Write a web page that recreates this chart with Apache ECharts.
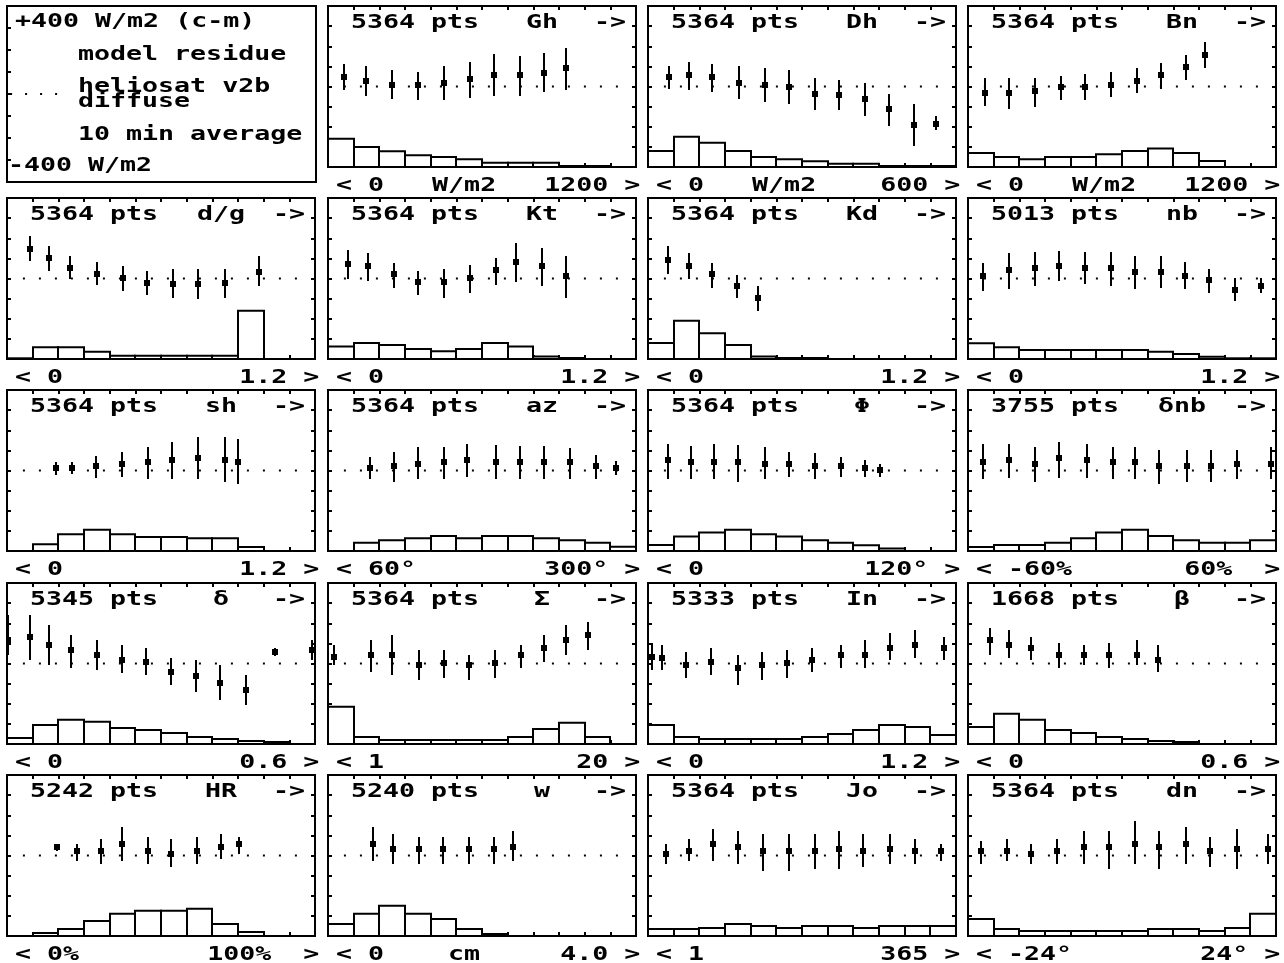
<!DOCTYPE html>
<html>
<head>
<meta charset="utf-8">
<script src="https://cdn.jsdelivr.net/npm/echarts@6/dist/echarts.min.js"></script>
<style>
  html, body { margin: 0; padding: 0; background: #fff; }
  #chart { width: 1284px; height: 963px; }
</style>
</head>
<body>
<div id="chart"></div>
<script>
// Residue (computed - measured, W/m2) of the Heliosat v2b diffuse model, 10 min averages,
// binned against 19 explanatory variables. Panels in reading order after the key panel.
const panelNames = ['Gh', 'Dh', 'Bn', 'd/g', 'Kt', 'Kd', 'nb', 'sh', 'az', 'Φ', 'δnb',
  'δ', 'Σ', 'In', 'β', 'HR', 'w', 'Jo', 'dn'];
const pointCounts = [5364, 5364, 5364, 5364, 5364, 5364, 5013, 5364, 5364, 5364, 3755,
  5345, 5364, 5333, 1668, 5242, 5240, 5364, 5364];
const lowLabels = ['0', '0', '0', '0', '0', '0', '0', '0', '60°', '0', '-60%',
  '0', '1', '0', '0', '0%', '0', '1', '-24°'];
const unitLabels = ['W/m2', 'W/m2', 'W/m2', '', '', '', '', '', '', '', '',
  '', '', '', '', '', 'cm', '', ''];
const highLabels = ['1200', '600', '1200', '1.2', '1.2', '1.2', '1.2', '1.2', '300°', '120°', '60%',
  '0.6', '20', '1.2', '0.6', '100%', '4.0', '365', '24°'];

// residue classes: position along the 12-bin variable axis
const binX = [
  [0.62, 1.48, 2.48, 3.50, 4.51, 5.54, 6.46, 7.47, 8.42, 9.29],
  [0.82, 1.60, 2.50, 3.54, 4.54, 5.49, 6.49, 7.44, 8.44, 9.38, 10.38, 11.23],
  [0.66, 1.61, 2.62, 3.62, 4.55, 5.58, 6.59, 7.52, 8.48, 9.23],
  [0.91, 1.62, 2.47, 3.50, 4.51, 5.45, 6.46, 7.46, 8.48, 9.80],
  [0.78, 1.56, 2.57, 3.50, 4.51, 5.55, 6.55, 7.33, 8.34, 9.27],
  [0.79, 1.60, 2.50, 3.45, 4.28],
  [0.58, 1.60, 2.62, 3.55, 4.56, 5.57, 6.49, 7.52, 8.47, 9.38, 10.42, 11.43],
  [1.92, 2.54, 3.48, 4.49, 5.50, 6.43, 7.46, 8.48, 9.01],
  [1.63, 2.57, 3.50, 4.51, 5.42, 6.55, 7.47, 8.43, 9.42, 10.43, 11.23],
  [0.79, 1.66, 2.59, 3.51, 4.54, 5.49, 6.49, 7.50, 8.44, 9.05],
  [0.58, 1.61, 2.62, 3.55, 4.64, 5.65, 6.50, 7.45, 8.54, 9.47, 10.48, 11.80],
  [0.04, 0.90, 1.63, 2.49, 3.50, 4.47, 5.40, 6.40, 7.38, 8.31, 9.32, 10.45, 11.90],
  [0.23, 1.67, 2.49, 3.53, 4.50, 5.51, 6.52, 7.50, 8.43, 9.28, 10.14],
  [0.15, 0.55, 1.48, 2.45, 3.50, 4.43, 5.40, 6.40, 7.50, 8.47, 9.44, 10.40, 11.53],
  [0.85, 1.60, 2.45, 3.53, 4.50, 5.50, 6.60, 7.42],
  [1.94, 2.72, 3.65, 4.47, 5.48, 6.40, 7.42, 8.35, 9.05],
  [1.75, 2.52, 3.53, 4.47, 5.48, 6.45, 7.22],
  [0.70, 1.60, 2.52, 3.50, 4.47, 5.51, 6.52, 7.46, 8.39, 9.44, 10.40, 11.42],
  [0.50, 1.51, 2.45, 3.46, 4.50, 5.51, 6.52, 7.46, 8.50, 9.44, 10.49, 11.69]
];
// mean residue per class (W/m2)
const meanResidue = [
  [48, 28, 7, 7, 18, 37, 56, 56, 68, 90],
  [48, 56, 48, 18, 7, -2, -35, -43, -63, -113, -193, -184],
  [-32, -32, -22, -2, -2, 7, 28, 56, 98, 156],
  [149, 100, 50, 21, 1, -21, -29, -29, -21, 32],
  [70, 62, 21, -17, -17, 1, 42, 82, 62, 12],
  [92, 62, 21, -37, -98],
  [12, 42, 50, 62, 50, 50, 32, 32, 12, -7, -59, -37],
  [12, 12, 23, 32, 40, 51, 61, 51, 43],
  [12, 23, 32, 40, 51, 40, 40, 40, 40, 23, 12],
  [51, 43, 43, 43, 32, 32, 23, 23, 12, 2],
  [40, 51, 32, 61, 51, 43, 43, 23, 23, 23, 32, 32],
  [117, 132, 92, 67, 42, 17, 7, -42, -62, -97, -132, 57, 67],
  [32, 42, 42, -7, 2, -7, 2, 42, 77, 117, 142],
  [32, 27, -7, 7, -22, -7, 2, 17, 42, 42, 77, 92, 77],
  [117, 92, 77, 42, 42, 42, 42, 17],
  [42, 22, 22, 57, 22, 7, 22, 42, 57],
  [57, 32, 32, 32, 32, 32, 42],
  [7, 22, 57, 42, 22, 22, 22, 32, 22, 32, 22, 22],
  [22, 22, 7, 22, 42, 42, 57, 42, 57, 22, 32, 32]
];
// lower end of the spread bar (W/m2)
const lowResidue = [
  [-18, -48, -60, -68, -68, -56, -48, -48, -27, -18],
  [-10, -15, -27, -60, -76, -88, -118, -118, -148, -198, -297, -217],
  [-98, -110, -101, -68, -68, -51, -32, -10, 32, 90],
  [87, 37, -4, -34, -62, -83, -95, -103, -95, -37],
  [-4, -12, -45, -83, -95, -73, -34, -17, -37, -95],
  [21, -4, -45, -95, -161],
  [-62, -50, -37, -12, -26, -37, -50, -45, -50, -73, -111, -73],
  [-22, -18, -35, -32, -43, -43, -43, -55, -65],
  [-43, -55, -43, -43, -32, -43, -43, -43, -40, -43, -22],
  [-43, -40, -40, -55, -43, -32, -43, -32, -32, -32],
  [-43, -35, -55, -35, -35, -43, -43, -65, -55, -55, -43, -43],
  [42, 17, -7, -22, -32, -47, -57, -107, -142, -181, -206, 37, 17],
  [-7, -42, -57, -82, -72, -82, -72, -22, 7, 42, 67],
  [-32, -32, -72, -57, -107, -82, -72, -42, -22, -22, 17, 27, 17],
  [42, 27, 17, -22, -7, -22, -7, -42],
  [22, -27, -42, -27, -42, -57, -42, -17, 7],
  [-27, -42, -42, -42, -42, -42, -27],
  [-42, -27, -27, -42, -77, -77, -67, -67, -57, -42, -42, -27],
  [-42, -27, -42, -42, -42, -67, -42, -67, -42, -57, -67, -42]
];
// upper end of the spread bar (W/m2)
const highResidue = [
  [111, 101, 81, 73, 101, 123, 161, 151, 164, 193],
  [101, 123, 111, 101, 90, 81, 40, 32, 15, -38, -88, -148],
  [40, 40, 40, 51, 61, 73, 90, 115, 159, 222],
  [210, 161, 111, 82, 62, 37, 45, 45, 45, 111],
  [144, 125, 75, 37, 45, 65, 103, 174, 153, 111],
  [161, 125, 75, 16, -37],
  [75, 125, 133, 136, 133, 133, 111, 111, 83, 45, 4, 4],
  [40, 40, 73, 93, 115, 144, 164, 164, 156],
  [65, 93, 115, 115, 134, 126, 123, 123, 111, 76, 45],
  [134, 123, 134, 126, 115, 93, 85, 65, 51, 32],
  [134, 134, 115, 144, 134, 115, 115, 103, 103, 103, 103, 115],
  [241, 241, 191, 142, 117, 92, 77, 27, 17, -7, -57, 77, 117],
  [92, 117, 142, 67, 67, 42, 67, 92, 142, 191, 206],
  [102, 92, 57, 77, 42, 57, 67, 77, 92, 117, 152, 166, 132],
  [176, 166, 132, 102, 92, 102, 117, 92],
  [57, 57, 82, 142, 92, 82, 92, 107, 92],
  [142, 107, 92, 92, 92, 92, 122],
  [57, 82, 132, 122, 107, 107, 107, 122, 107, 107, 82, 57],
  [72, 82, 57, 82, 122, 122, 171, 122, 142, 92, 132, 107]
];
// share of points falling in each of the 12 bins (percent)
const histShare = [
  [28, 20, 15.6, 11.6, 10, 7.6, 4.3, 4.3, 4.3, 1, 1, 0],
  [16, 30, 24, 16, 10, 7.6, 5.6, 3.3, 3.3, 1, 1, 1],
  [14, 10, 7.6, 10, 10, 12.6, 16, 18.3, 14, 6, 0, 0],
  [0.7, 11.6, 11.6, 7.3, 3.3, 3.3, 3.3, 3.3, 3.3, 48, 0, 0],
  [12.3, 16, 14, 10, 7.6, 10, 16, 12.3, 2.6, 1, 0, 0],
  [16, 38, 25.5, 14, 2.6, 1, 1, 0, 0, 0, 0, 0],
  [15.6, 11.6, 9, 9, 9, 9, 9, 7.3, 5, 2.3, 0.7, 0.7],
  [0, 6.6, 16.6, 21, 16.6, 14, 14, 12.6, 12.6, 4, 0, 0],
  [0, 8.3, 10.6, 12.6, 15, 12.6, 15, 15, 12.6, 10.6, 8.3, 4.3],
  [6, 14.3, 18.3, 21, 16.6, 14.3, 10.6, 8.3, 5.6, 2.6, 0, 0],
  [4, 6, 6, 8.3, 12.6, 18.3, 21, 15, 10.6, 8.3, 8.3, 10.6],
  [6, 19, 24, 22, 16, 14, 11, 7, 5, 3, 2, 0],
  [37, 7, 4, 4, 4, 4, 4, 7, 15, 21, 7, 0],
  [19, 7, 5, 5, 5, 5, 7, 10, 14, 19, 17, 9],
  [17, 30, 24, 14, 11, 7, 5, 3, 2, 0, 0, 0],
  [0, 3, 7, 15, 22, 25, 25, 27, 12, 4, 0, 0],
  [12, 22, 30, 22, 17, 7, 2, 0, 0, 0, 0, 0],
  [7, 7, 8, 12, 10, 8, 10, 10, 8, 10, 10, 10],
  [17, 7, 5, 5, 5, 5, 5, 7, 7, 5, 8, 22]
];
// key panel text
const keyTop = '+400 W/m2 (c-m)';
const keyBottom = '-400 W/m2';
const keyLines = ['model residue', 'heliosat v2b', 'diffuse', '10 min average'];

// ---- layout ----
const COL_LEFT = [7, 328, 648, 968];
const ROW_TOP = [6, 198, 390, 583, 775];
const PW = 308, PH = 161;
const FONT_FAMILY = '"DejaVu Sans Mono", "Liberation Mono", monospace';
const SX = 1.33; // widen the monospace glyphs to a 16px cell

const grids = [], xAxes = [], yAxes = [], series = [], texts = [];

function addText(x, y, s, align) {
  texts.push({
    type: 'text', x: x, y: y, scaleX: SX, silent: true, z: 50,
    style: {
      text: s, fill: '#000',
      font: 'bold 20px ' + FONT_FAMILY,
      fontFamily: FONT_FAMILY, fontWeight: 'bold', fontSize: 20,
      align: align || 'left', textAlign: align || 'left',
      verticalAlign: 'middle', textVerticalAlign: 'middle'
    }
  });
}

const tick = { show: true, inside: true, length: 4, lineStyle: { color: '#000', width: 2 } };
function xAxisDef(gi, pos, show) {
  return {
    gridIndex: gi, type: 'value', min: 0, max: 12, interval: 1, position: pos, show: show,
    axisLine: { show: false, onZero: false }, axisTick: tick,
    axisLabel: { show: false }, splitLine: { show: false }
  };
}
function yAxisDef(gi, pos, min, max, interval, show) {
  return {
    gridIndex: gi, type: 'value', min: min, max: max, interval: interval, position: pos, show: show,
    axisLine: { show: false, onZero: false }, axisTick: tick,
    axisLabel: { show: false }, splitLine: { show: false }
  };
}
function dottedZero(gi, x0, x1, gap) {
  return {
    type: 'line', xAxisIndex: 2 * gi, yAxisIndex: 2 * gi, data: [[x0, 0], [x1, 0]],
    symbol: 'none', silent: true, animation: false, z: 3,
    lineStyle: { color: '#000', width: 2, type: [2, gap] }
  };
}

// key panel
grids.push({ left: COL_LEFT[0], top: ROW_TOP[0], width: 309, height: 176,
  show: true, borderColor: '#000', borderWidth: 2, containLabel: false });
xAxes.push(xAxisDef(0, 'bottom', false), xAxisDef(0, 'top', false));
yAxes.push(yAxisDef(0, 'left', -400, 400, 100, true), yAxisDef(0, 'right', 0, 160, 20, false));
series.push(dottedZero(0, 0.12, 1.95, 13));
addText(15, 21.5, keyTop);
addText(78, 54.5, keyLines[0]);
addText(78, 87, keyLines[1]);
addText(78, 101.5, keyLines[2]);
addText(78, 134.5, keyLines[3]);
addText(8, 166, keyBottom);

function centerUnit(u) {
  const pad = 4 - u.length;
  return ' '.repeat(Math.floor(pad / 2)) + u + ' '.repeat(Math.ceil(pad / 2));
}
// range line under a panel, laid out on a 19-cell monospace row
function rangeLine(lo, unit, hi) {
  const right = (/%$/.test(hi) ? hi + ' ' : hi).padStart(5);
  return '< ' + lo.padEnd(4) + centerUnit(unit) + '  ' + right + ' >';
}

for (let p = 0; p < panelNames.length; p++) {
  const slot = p + 1;
  const gi = slot;
  const L = COL_LEFT[slot % 4], T = ROW_TOP[Math.floor(slot / 4)];
  grids.push({ left: L, top: T, width: PW, height: PH,
    show: true, borderColor: '#000', borderWidth: 2, containLabel: false });
  xAxes.push(xAxisDef(gi, 'bottom', true), xAxisDef(gi, 'top', true));
  yAxes.push(yAxisDef(gi, 'left', -400, 400, 100, true), yAxisDef(gi, 'right', 0, 160, 20, true));

  // histogram of the explanatory variable
  series.push({
    type: 'custom', xAxisIndex: 2 * gi, yAxisIndex: 2 * gi + 1, animation: false, silent: true, z: 2,
    encode: { x: 0, y: 1 },
    data: histShare[p].map((v, i) => [i, v]),
    renderItem: function (params, api) {
      const v = api.value(1);
      if (!(v > 0)) return null;
      const i = api.value(0);
      const a = api.coord([i, v]);
      const b = api.coord([i + 1, 0]);
      return {
        type: 'rect',
        shape: { x: Math.round(a[0]), y: a[1], width: Math.round(b[0]) - Math.round(a[0]), height: b[1] - a[1] },
        style: { fill: '#fff', stroke: '#000', lineWidth: 2 }
      };
    }
  });

  series.push(dottedZero(gi, 0.62, 11.3, 14));

  // mean residue with its spread
  series.push({
    type: 'custom', xAxisIndex: 2 * gi, yAxisIndex: 2 * gi, animation: false, silent: true, z: 4,
    clip: true,
    encode: { x: 0, y: [1, 2, 3] },
    data: binX[p].map((x, k) => [x, meanResidue[p][k], lowResidue[p][k], highResidue[p][k]]),
    renderItem: function (params, api) {
      const x = api.value(0);
      const c = api.coord([x, api.value(1)]);
      const lo = api.coord([x, api.value(2)]);
      const hi = api.coord([x, api.value(3)]);
      const px = Math.round(c[0]);
      const py = Math.round(c[1]);
      return {
        type: 'group',
        children: [
          { type: 'line', shape: { x1: px, y1: Math.round(hi[1]), x2: px, y2: Math.round(lo[1]) },
            style: { stroke: '#000', lineWidth: 2 } },
          { type: 'rect', shape: { x: px - 3, y: py - 3, width: 6, height: 6 },
            style: { fill: '#000' } }
        ]
      };
    }
  });

  // titles and axis range labels
  addText(L + 23, T + 16.5, pointCounts[p] + ' pts');
  addText(L + 214, T + 16.5, panelNames[p], 'center');
  addText(L + 266, T + 16.5, '->');
  addText(L + 8, T + PH + 19, rangeLine(lowLabels[p], unitLabels[p], highLabels[p]));
}

const chart = echarts.init(document.getElementById('chart'), null, { renderer: 'canvas', width: 1284, height: 963 });
chart.setOption({
  animation: false,
  backgroundColor: '#fff',
  grid: grids,
  xAxis: xAxes,
  yAxis: yAxes,
  series: series,
  graphic: { elements: texts }
});
</script>
</body>
</html>
